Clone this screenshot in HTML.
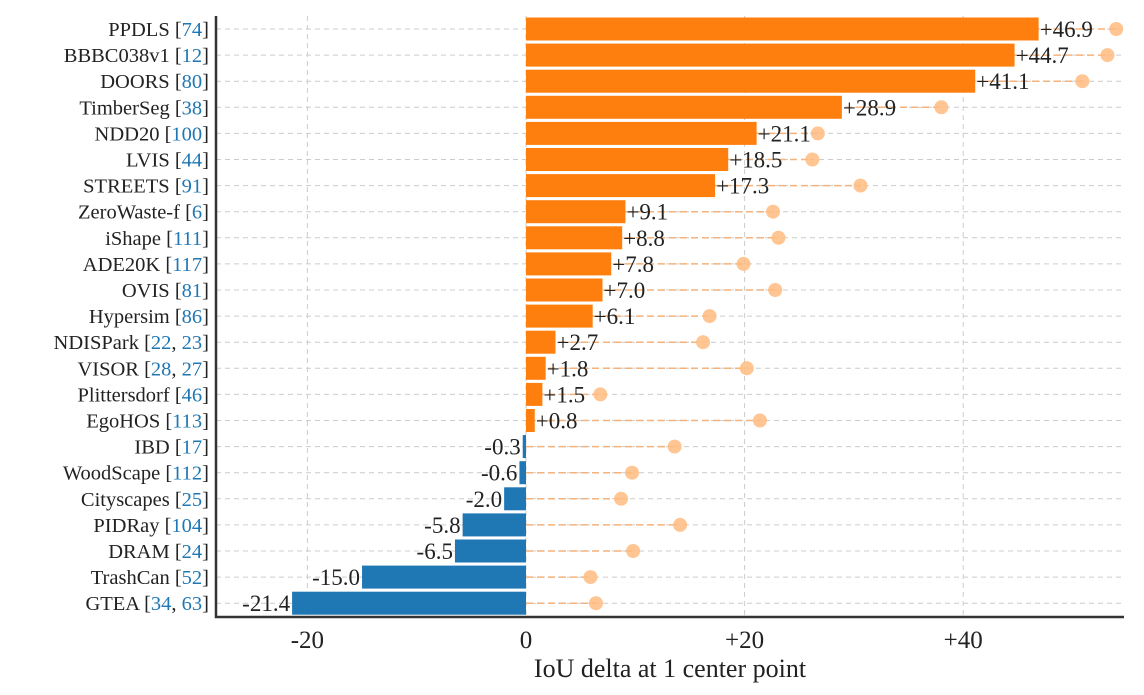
<!DOCTYPE html>
<html><head><meta charset="utf-8"><style>
body{margin:0;background:#fff;}
svg text{font-family:"Liberation Serif",serif;}
</style></head><body>
<svg id="c" width="1144" height="690"></svg>
<script>
const names=["PPDLS","BBBC038v1","DOORS","TimberSeg","NDD20","LVIS","STREETS","ZeroWaste-f","iShape","ADE20K","OVIS","Hypersim","NDISPark","VISOR","Plittersdorf","EgoHOS","IBD","WoodScape","Cityscapes","PIDRay","DRAM","TrashCan","GTEA"];
const refs=[["74"],["12"],["80"],["38"],["100"],["44"],["91"],["6"],["111"],["117"],["81"],["86"],["22","23"],["28","27"],["46"],["113"],["17"],["112"],["25"],["104"],["24"],["52"],["34","63"]];
const deltas=[46.9,44.7,41.1,28.9,21.1,18.5,17.3,9.1,8.8,7.8,7.0,6.1,2.7,1.8,1.5,0.8,-0.3,-0.6,-2.0,-5.8,-6.5,-15.0,-21.4];
const dots=[54.0,53.2,50.9,38.0,26.7,26.2,30.6,22.6,23.1,19.9,22.8,16.8,16.2,20.2,6.8,21.4,13.6,9.7,8.7,14.1,9.8,5.9,6.4];
const xticks=[-20,0,20,40];
const xtickLabels=["-20","0","+20","+40"];
const NS="http://www.w3.org/2000/svg";
const svg=document.getElementById('c');
const L=216,R=1124,T=16,B=617;
const x=v=>526+v*10.93;
const y=i=>29+i*26.1;
function el(t,a,p){const e=document.createElementNS(NS,t);for(const k in a)e.setAttribute(k,a[k]);(p||svg).appendChild(e);return e;}
xticks.forEach((t,i)=>{
 const g=el('line',{x1:x(t),x2:x(t),y1:T,y2:B,stroke:'#ccc','stroke-dasharray':'5,4','stroke-width':1});
 
 
 const tx=el('text',{x:x(t),y:648,'font-size':25,'text-anchor':'middle',fill:'#222'});
 tx.textContent=xtickLabels[i];
 
 
});
names.forEach((n,i)=>{
 const yy=y(i);
 const g=el('line',{x1:L,x2:R,y1:yy,y2:yy,stroke:'#ccc','stroke-dasharray':'5,4'});
 
 
 const dl=el('line',{x1:x(0),x2:x(dots[i]),y1:yy,y2:yy,stroke:'#f5b27a','stroke-dasharray':'7,4','stroke-width':1.5});
 
 
 const d=el('circle',{cx:x(dots[i]),cy:yy,r:7,fill:'#ffbb80','fill-opacity':0.85});
 
 
 const v=deltas[i];
 const bx=Math.min(x(0),x(v)),bw=Math.abs(x(v)-x(0));
 const b=el('rect',{x:bx,y:yy-11.5,width:Math.max(bw,1.5),height:23,fill:v>=0?'#ff7f0e':'#1f77b4'});
 
 
 const vt=el('text',{x:v>=0?x(v)+1:x(v)-2,y:yy+8,'font-size':23,'text-anchor':v>=0?'start':'end',fill:'#222'});
 vt.textContent=(v>=0?'+':'')+v.toFixed(1);
 
 
 const lt=el('text',{x:L-7,y:yy+7,'font-size':20.5,'text-anchor':'end',fill:'#222'});
 
 
 const s1=el('tspan',{},lt);s1.textContent=n+' [';
 refs[i].forEach((r,j)=>{
  if(j>0){const c=el('tspan',{},lt);c.textContent=', ';}
  const rs=el('tspan',{fill:'#1f77b4'},lt);rs.textContent=r;
 });
 const s2=el('tspan',{},lt);s2.textContent=']';
});
const ax=el('path',{d:`M${L},${T} L${L},${B} L${R},${B}`,fill:'none',stroke:'#333','stroke-width':2.5});


const xt=el('text',{x:670,y:677,'font-size':26,'text-anchor':'middle',fill:'#222'});
xt.textContent='IoU delta at 1 center point';


</script>
</body></html>
